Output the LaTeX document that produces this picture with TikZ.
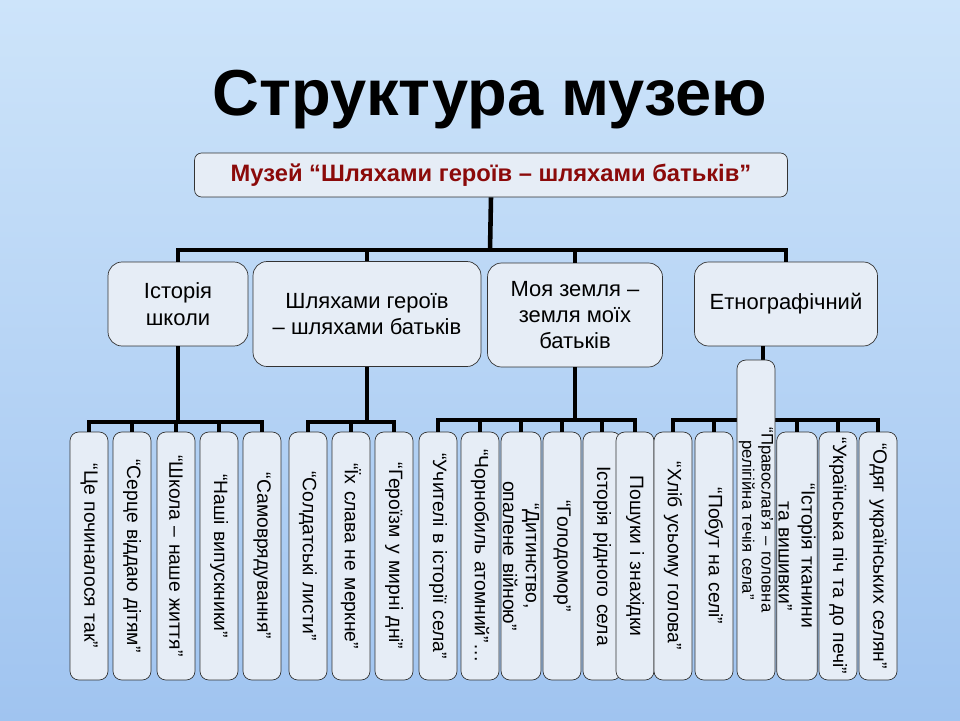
\documentclass[tikz,border=0pt]{standalone}
\usepackage{fontspec}
\setmainfont{Liberation Sans}
\usetikzlibrary{positioning}
\definecolor{boxfill}{HTML}{E6EDF6}
\definecolor{rootred}{HTML}{8B0A0A}
\begin{document}
\begin{tikzpicture}[x=0.02cm, y=-0.02cm,
		box/.style={draw=black!80, fill=boxfill, rounded corners=8pt, inner sep=2pt, align=center, font=\fontsize{12.5}{15}\selectfont},
		leaf/.style={draw=black!80, fill=boxfill, rounded corners=5pt, inner sep=1pt, rotate=-90, text width=4.8cm, align=center, minimum width=4.96cm, minimum height=0.76cm, font=\fontsize{11}{13}\selectfont},
		bar/.style={line width=2.6pt}]
		\shade[top color={rgb,255:red,205;green,228;blue,250}, bottom color={rgb,255:red,160;green,196;blue,240}] (0,0) rectangle (960,720);
		\useasboundingbox (0,0) rectangle (960,720);
		\node (title) at (490,100) {\fontsize{37}{40}\selectfont\bfseries Структура музею};
		\node[box, minimum width=11.86cm, minimum height=0.88cm, rounded corners=4pt, font=\fontsize{13.5}{16}\selectfont\bfseries\color{rootred}] (root) at (491,175) {Музей “Шляхами героїв – шляхами батьків”};
		% heads
		\node[box, minimum width=2.8cm, minimum height=1.68cm] (hA) at (178,304) {Історія\\ школи};
		\node[box, minimum width=4.56cm, minimum height=2.1cm] (hB) at (367,314) {Шляхами героїв\\ – шляхами батьків};
		\node[box, minimum width=3.5cm, minimum height=2.08cm] (hC) at (575,315) {Моя земля –\\ земля моїх\\ батьків};
		\node[box, minimum width=3.66cm, minimum height=1.68cm] (hD) at (786,304) {Етнографічний};
		\coordinate (jroot) at (490,250);
		\draw[bar] (root.south) -- (jroot);
		\foreach \h in {hA,hB,hC,hD}
			\draw[bar] (jroot) -| (\h.north);
		% leaves
		\foreach \x/\t [count=\i] in {89/{“Це починалося так”}, 132/{“Серце віддаю дітям”}, 176/{“Школа – наше життя”},
			219/{“Наші випускники”}, 262/{“Самоврядування”}, 308/{“Солдатські листи”}, 351/{“Їх слава не меркне”},
			394/{“Героїзм у мирні дні”}, 438/{“Учителі в історії села”}, 480/{“Чорнобиль атомний”…},
			521/{“Дитинство, опалене війною”}, 562/{“Голодомор”}, 602/{Історія рідного села}, 635/{Пошуки і знахідки},
			673/{“Хліб усьому голова”}, 714/{“Побут на селі”}, 797/{“Історія тканини та вишивки”},
			838/{“Українська піч та до печі”}, 878/{“Одяг українських селян”}}
			\node[leaf] (l\i) at (\x,556) {\t};
		\coordinate (jA) at (178,422);
		\coordinate (jB) at (367,422);
		\coordinate (jC) at (575,420);
		\coordinate (jD) at (763,420);
		\draw[bar] (hA.south) -- (jA);
		\draw[bar] (hB.south) -- (jB);
		\draw[bar] (hC.south) -- (jC);
		\draw[bar] (hD.south -| jD) -- (jD);
		\foreach \i in {1,...,5} \draw[bar] (jA) -| (l\i.west);
		\foreach \i in {6,7,8} \draw[bar] (jB) -| (l\i.west);
		\foreach \i in {9,...,14} \draw[bar] (jC) -| (l\i.west);
		\foreach \i in {15,...,19} \draw[bar] (jD) -| (l\i.west);
		\node[leaf, text width=6.3cm, minimum width=6.4cm, font=\fontsize{9.5}{11}\selectfont] (l20) at (756,520) {“Православ’я – головна релігійна течія села”};
\end{tikzpicture}
\end{document}
